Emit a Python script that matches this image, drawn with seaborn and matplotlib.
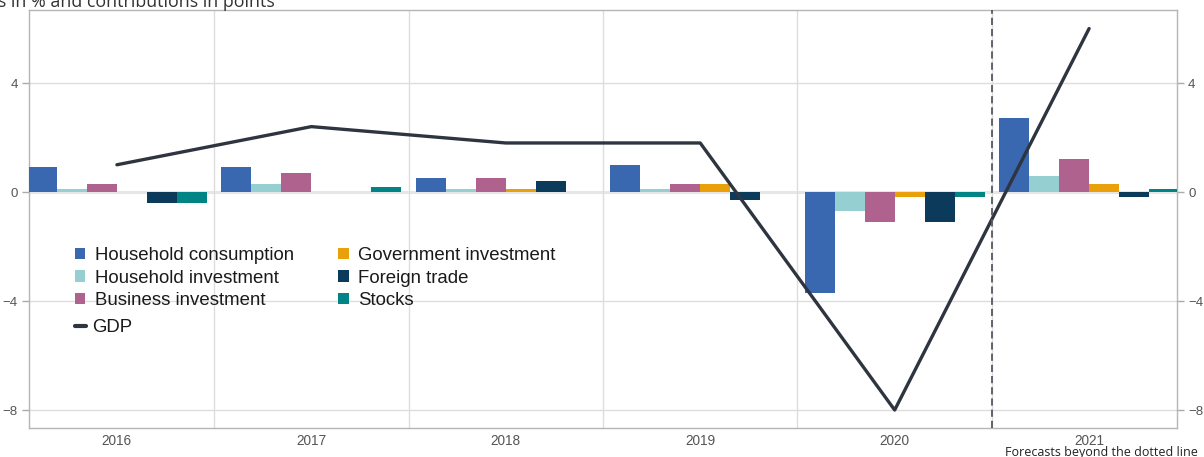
import numpy as np
import pandas as pd
import matplotlib
matplotlib.use("Agg")
import matplotlib.pyplot as plt
from matplotlib.patches import Patch
from matplotlib.lines import Line2D
import seaborn as sns

# Contributions to GDP growth (points) and GDP growth (%)
years = ["2016", "2017", "2018", "2019", "2020", "2021"]
components = ["Household consumption", "Household investment", "Business investment",
              "Government investment", "Foreign trade", "Stocks"]
household_consumption = [0.9, 0.9, 0.5, 1.0, -3.7, 2.7]
household_investment = [0.1, 0.3, 0.1, 0.1, -0.7, 0.6]
business_investment = [0.3, 0.7, 0.5, 0.3, -1.1, 1.2]
government_investment = [0.0, 0.0, 0.1, 0.3, -0.2, 0.3]
foreign_trade = [-0.4, 0.0, 0.4, -0.3, -1.1, -0.2]
stocks = [-0.4, 0.2, 0.0, 0.0, -0.2, 0.1]
gdp = [1.0, 2.4, 1.8, 1.8, -8.0, 6.0]

colors = ["#3967b0", "#96cfd1", "#b0628e", "#e9a00b", "#0c3a5a", "#008485"]
gdp_color = "#2e3540"

series = [household_consumption, household_investment, business_investment,
          government_investment, foreign_trade, stocks]
df = pd.DataFrame({
    "year": np.repeat([years], len(components), axis=0).ravel(),
    "component": np.repeat(components, len(years)),
    "value": np.concatenate(series),
})

sns.set_style("white")
plt.rcParams["font.family"] = ["Liberation Sans", "DejaVu Sans"]
plt.rcParams["axes.unicode_minus"] = True

fig = plt.figure(figsize=(12.04, 4.57), dpi=100)
ax = fig.add_axes([29 / 1204, 1 - 428 / 457, (1177 - 29) / 1204, (428 - 10) / 457])

sns.barplot(data=df, x="year", y="value", hue="component", hue_order=components,
            order=years, palette=colors, saturation=1, width=0.925, dodge=True,
            errorbar=None, legend=False, ax=ax, zorder=3,
            linewidth=0, edgecolor="none")

sns.lineplot(x=np.arange(len(years)), y=gdp, color=gdp_color, linewidth=2.4,
             ax=ax, zorder=4, legend=False)

ax.set_xlim(-0.452, 5.452)
ax.set_ylim(-8.66, 6.68)
ax.set_xlabel("")
ax.set_ylabel("")

# grid: horizontal at y ticks, vertical between years
ax.set_yticks([-8, -4, 0, 4])
for y in [-8, -4, 4]:
    ax.axhline(y, color="#dddddd", lw=1, zorder=0)
ax.axhline(0, color="#e6e6e6", lw=2.2, zorder=0)
for xb in np.arange(0.5, 5.0, 1.0):
    ax.axvline(xb, color="#dddddd", lw=1, zorder=0)

ax.axvline(4.5, color="#555a60", lw=1.3, ls=(0, (4, 2.2)), zorder=5)

ax.yaxis.set_ticks_position("both")
ax.tick_params(axis="y", which="both", direction="out", length=5, width=1,
               color="#aaaaaa", labelsize=9.5, labelcolor="#555555",
               labelleft=True, labelright=True, pad=3)
ax.tick_params(axis="x", direction="out", length=3, width=1, color="#aaaaaa",
               labelsize=9.8, labelcolor="#555555", pad=1.5)

for s in ax.spines.values():
    s.set_color("#b5b5b5")
    s.set_linewidth(1)

# legend for the contributions
handles = [Patch(facecolor=c, edgecolor="none", label=n) for c, n in zip(colors, components)]
leg1 = ax.legend(handles=handles, ncol=2, loc="upper left",
                 bbox_to_anchor=(46 / 1148, (428 - 247) / 418), frameon=False,
                 fontsize=13.4, handlelength=0.55, handleheight=0.55,
                 handletextpad=0.5, labelspacing=0.3, columnspacing=2.4,
                 borderaxespad=0, borderpad=0)
for t in leg1.get_texts():
    t.set_color("#1a1a1a")
ax.add_artist(leg1)

leg2 = ax.legend(handles=[Line2D([0], [0], color=gdp_color, lw=3, label="GDP")],
                 loc="upper left", bbox_to_anchor=(46 / 1148, (428 - 319) / 418),
                 frameon=False, fontsize=13.4, handlelength=0.6,
                 handletextpad=0.3, borderaxespad=0, borderpad=0)
for t in leg2.get_texts():
    t.set_color("#1a1a1a")

fig.text(275 / 1204, 1 - 7 / 457, "Growth rates in % and contributions in points",
         ha="right", va="baseline", fontsize=12.9, color="#333333",
         family=["Open Sans", "DejaVu Sans"])
fig.text(1198 / 1204, 1 - 456 / 457, "Forecasts beyond the dotted line",
         ha="right", va="baseline", fontsize=9.0, color="#222222",
         family=["Open Sans", "DejaVu Sans"])

fig.savefig("out.png", dpi=100)
